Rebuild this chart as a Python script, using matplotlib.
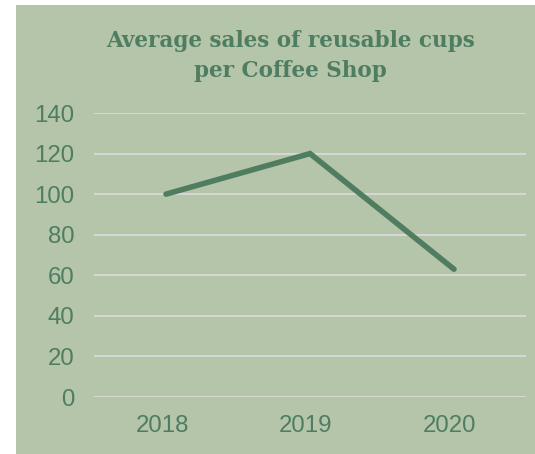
import matplotlib
matplotlib.use("Agg")
import matplotlib.pyplot as plt
import matplotlib.transforms as mtransforms
from matplotlib.patches import Rectangle

years = ["2018", "2019", "2020"]
sales = [100, 120, 63]
yticks = [0, 20, 40, 60, 80, 100, 120, 140]

W, H = 535, 454
dpi = 100
fig = plt.figure(figsize=(W / dpi, H / dpi), dpi=dpi, facecolor="white")

bg = "#B4C5A9"
green = "#507D60"
txt = "#4F7D61"

fig.patches.append(Rectangle((16 / W, 0), 1 - 16 / W, 1 - 5 / H,
                             transform=fig.transFigure, facecolor=bg,
                             edgecolor="none", zorder=-10))

ax = fig.add_axes([94 / W, (H - 397) / H, (526 - 94) / W, (397 - 113) / H])
ax.set_zorder(5)
ax.set_facecolor("none")
x = list(range(len(years)))
ax.plot(x, sales, color=green, lw=4.0, solid_capstyle="round",
        solid_joinstyle="miter", zorder=3)
ax.set_xlim(-0.5, len(years) - 0.5)
ax.set_ylim(0, 140)
ax.set_yticks(yticks)
ax.set_xticks(x)
ax.set_xticklabels(years)
for s in ax.spines.values():
    s.set_visible(False)
ax.grid(axis="y", color="#D9D9D9", lw=1.3, zorder=1)
ax.tick_params(axis="both", length=0, labelcolor=txt, labelsize=17.3)
ax.tick_params(axis="y", pad=14)
ax.tick_params(axis="x", pad=13)
shift = mtransforms.ScaledTranslation(-4 / dpi, 0, fig.dpi_scale_trans)
for lab in ax.get_xticklabels():
    lab.set_family("Liberation Sans")
    lab.set_transform(lab.get_transform() + shift)
for lab in ax.get_yticklabels():
    lab.set_family("Liberation Sans")

t = fig.text(0.543, 1 - 56 / H, "Average sales of reusable cups\nper Coffee Shop",
             ha="center", va="center", fontsize=15.5, fontweight="bold",
             family="DejaVu Serif", color=txt, linespacing=1.5)
t.set_zorder(6)

fig.savefig("out.png", dpi=dpi, facecolor="white")
